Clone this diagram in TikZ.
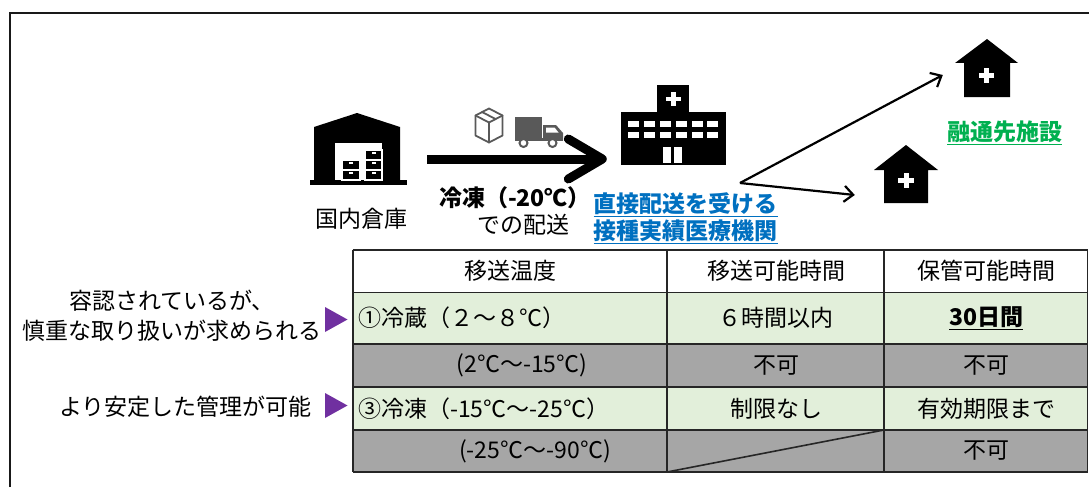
\documentclass[tikz,border=0pt]{standalone}
\usepackage{fontspec}
\setmainfont{Noto Sans CJK JP}
\usetikzlibrary{arrows.meta}
\definecolor{rowgreen}{HTML}{E2EFDA}
\definecolor{rowgray}{HTML}{A6A6A6}
\definecolor{gridc}{HTML}{262626}
\definecolor{tri}{HTML}{7030A0}
\definecolor{linkblue}{HTML}{0070C0}
\definecolor{linkgreen}{HTML}{00B050}
\definecolor{icongray}{HTML}{595959}
\begin{document}
\begin{tikzpicture}[x=1pt,y=-1pt,
  txt/.style={inner sep=0pt, font=\fontsize{23}{28}\selectfont},
  iconbox/.style={inner sep=0pt, draw=none},
  bigarrow/.style={line width=9pt, -{Straight Barb[length=34pt,width=40pt,round]}},
  thinarrow/.style={line width=2.2pt, -{Straight Barb[length=9pt,width=16pt]}},
  cellgreen/.style={fill=rowgreen},
  cellgray/.style={fill=rowgray},
  gridline/.style={draw=gridc, line width=1.6pt},
  marker/.style={fill=tri}]
\useasboundingbox (0,0) rectangle (1089,487);
% outer frame
\draw[line width=2pt, black!90] (9.5,487) -- (9.5,13.5) -- (1089,13.5);

% ---------- warehouse icon ----------
\node[iconbox, minimum width=97pt, minimum height=72pt] (wh) at (358.5,149) {};
\fill (314,183) -- (314,127) -- (357,113) -- (400,127) -- (400,183) -- cycle;
\fill (310,180) rectangle (407,185);
\fill[white] (335,143) rectangle (382,180);
\foreach \y in {160,170} {
  \filldraw[draw=white, line width=1.2pt, fill=black] (342,\y) rectangle (360,\y+10);
  \fill[white] (349,\y+2) rectangle (353,\y+4);
}
\foreach \y in {150,160,170} {
  \filldraw[draw=white, line width=1.2pt, fill=black] (365,\y) rectangle (382,\y+10);
  \fill[white] (371.5,\y+2) rectangle (375.5,\y+4);
}
\node[txt] (whlabel) at (361,219) {国内倉庫};

% ---------- hospital icon ----------
\node[iconbox, minimum width=105pt, minimum height=80pt] (hosp) at (673.5,125) {};
\fill (657,85) rectangle (689,113);
\fill (621,112) rectangle (726,165);
\fill[white] (671,92) rectangle (675.5,106);
\fill[white] (666,96.8) rectangle (680.5,101.3);
\foreach \x in {628,643.5,659.5,675.5,691.5,707} {
  \fill[white] (\x,121) rectangle (\x+11,126.5);
  \fill[white] (\x,132) rectangle (\x+11,137.5);
}
\fill[white] (663,147) rectangle (671,163);
\fill[white] (674,147) rectangle (682,163);

% ---------- box and truck icons ----------
\begin{scope}[draw=icongray, line width=1.8pt, line join=round, line cap=round]
\draw (489,108.5) -- (502.5,115.5) -- (502.5,135.5) -- (489,142.5) -- (475.5,135.5) -- (475.5,115.5) -- cycle;
\draw (475.5,115.5) -- (489,122.5) -- (502.5,115.5);
\draw (489,122.5) -- (489,142.5);
\draw (482,112) -- (495.5,119);
\end{scope}
\fill[icongray] (515,117) rectangle (542,138);
\fill[icongray] (543,125) -- (556,125) -- (563,133) -- (563,140) -- (543,140) -- cycle;
\fill[white] (546,127.5) -- (554.5,127.5) -- (558.5,132.5) -- (546,132.5) -- cycle;
\fill[icongray] (515,138) rectangle (563,141);
\filldraw[fill=white, draw=icongray, line width=2pt] (523.5,143) circle (4pt);
\filldraw[fill=white, draw=icongray, line width=2pt] (552.5,143) circle (4pt);

% ---------- main thick arrow ----------
\draw[bigarrow, shorten <=20pt, shorten >=14pt] ([yshift=-10pt]wh.east) -- ([yshift=-34pt]hosp.west);
\node[txt, font=\fontsize{23}{28}\selectfont\bfseries] (temp) at (515,198) {冷凍（-20℃）};
\node[txt] (haiso) at (523,225) {での配送};

\node[txt, text=linkblue, font=\fontsize{23}{28}\selectfont\bfseries] (blue1) at (685.5,205) {\underline{直接配送を受ける}};
\node[txt, text=linkblue, font=\fontsize{23}{28}\selectfont\bfseries] (blue2) at (685.5,232) {\underline{接種実績医療機関}};

% ---------- houses ----------
\node[iconbox, minimum width=63pt, minimum height=58pt] (h1) at (986.5,68) {};
\fill (955,63) -- (987,39) -- (1018,63) -- (1010,63) -- (1010,97) -- (964,97) -- (964,63) -- cycle;
\fill[white] (984.2,68) rectangle (989.2,83);
\fill[white] (979,73) rectangle (994.4,78);
\node[iconbox, minimum width=64pt, minimum height=58pt] (h2) at (906,174) {};
\fill (874,170) -- (906,145) -- (938,170) -- (928,170) -- (928,203) -- (884,203) -- (884,170) -- cycle;
\fill[white] (903.5,172.5) rectangle (908.5,188);
\fill[white] (898,177.7) rectangle (914,182.7);
\node[txt, text=linkgreen, font=\fontsize{23}{28}\selectfont\bfseries] (yuzu) at (1004.5,133) {\underline{融通先施設}};

\coordinate (fork) at (740,183);
\draw[thinarrow] (fork) -- ([xshift=-12pt,yshift=-7pt]h1.west);
\draw[thinarrow] (fork) -- ([xshift=-19pt,yshift=-21pt]h2.west);

% ---------- table ----------
\fill[white] (352.7,250) rectangle (1087.5,292.3);
\fill[rowgreen] (352.7,292.3) rectangle (1087.5,344);
\fill[rowgray] (352.7,344) rectangle (1087.5,386.7);
\fill[rowgreen] (352.7,386.7) rectangle (1087.5,430);
\fill[rowgray] (352.7,430) rectangle (1087.5,472);
\foreach \y in {250,292.3,344,386.7,430,472} {
  \draw[gridline] (352.7,\y) -- (1087.5,\y);
}
\foreach \x in {352.7,667,884,1087.5} {
  \draw[gridline] (\x,250) -- (\x,472);
}
\draw[gridline] (667,472) -- (884,430);

\node[txt] (h0) at (510,271) {移送温度};
\node[txt] (h1t) at (776,271) {移送可能時間};
\node[txt] (h2t) at (986,271) {保管可能時間};

\node[txt, anchor=west] (r1a) at (358,318) {①冷蔵（２～８℃）};
\node[txt] (r1b) at (776,318) {６時間以内};
\node[txt, font=\fontsize{23}{28}\selectfont\bfseries] (r1c) at (986,318) {\underline{30日間}};

\node[txt] (r2a) at (522,365.5) {(2℃～-15℃)};
\node[txt] (r2b) at (776,365.5) {不可};
\node[txt] (r2c) at (986,365.5) {不可};

\node[txt, anchor=west] (r3a) at (358,408.5) {③冷凍（-15℃～-25℃）};
\node[txt] (r3b) at (776,408.5) {制限なし};
\node[txt] (r3c) at (986,408.5) {有効期限まで};

\node[txt] (r4a) at (535,451) {(-25℃～-90℃)};
\node[txt] (r4c) at (986,451) {不可};

% ---------- left notes ----------
\node[txt] (n1) at (172,301) {容認されているが、};
\node[txt] (n2) at (172,331) {慎重な取り扱いが求められる};
\node[txt, anchor=east] (n3) at (312,407) {より安定した管理が可能};
\fill[marker] (325,307) -- (347.5,319.5) -- (325,332) -- cycle;
\fill[marker] (325,393) -- (347.5,405.5) -- (325,418) -- cycle;
\end{tikzpicture}
\end{document}
